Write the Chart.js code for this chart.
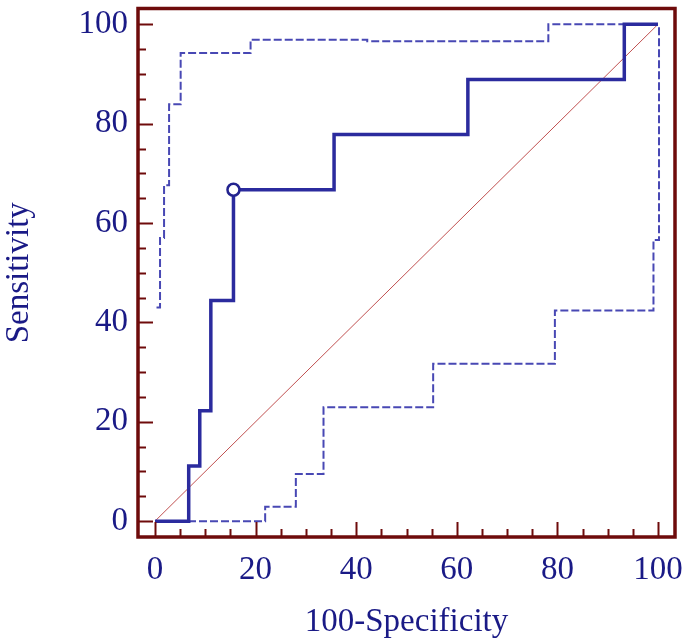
<!DOCTYPE html>
<html>
<head>
<meta charset="utf-8">
<script src="https://cdn.jsdelivr.net/npm/chart.js@4/dist/chart.umd.min.js"></script>
<style>
  html, body { margin: 0; padding: 0; background: #fff; }
  #wrap { width: 685px; height: 642px; }
</style>
</head>
<body>
<div id="wrap"><canvas id="roc"></canvas></div>
<script>
// ROC curve (100-Specificity vs Sensitivity), corner points of the steps
const rocX = [0, 6.7, 6.7, 8.9, 8.9, 11.1, 11.1, 15.6, 15.6, 35.6, 35.6, 62.2, 62.2, 93.3, 93.3, 100];
const rocY = [0, 0, 11.1, 11.1, 22.2, 22.2, 44.4, 44.4, 66.7, 66.7, 77.8, 77.8, 88.9, 88.9, 100, 100];

// upper confidence bound
const upperX = [0.3, 1.0, 1.0, 1.8, 1.8, 2.8, 2.8, 5.1, 5.1, 19.0, 19.0, 42.2, 42.2, 78.2, 78.2, 100];
const upperY = [43, 43, 57, 57, 67.6, 67.6, 83.9, 83.9, 94.2, 94.2, 96.9, 96.9, 96.6, 96.6, 100, 100];

// lower confidence bound
const lowerX = [0, 21.9, 21.9, 28.0, 28.0, 33.5, 33.5, 55.3, 55.3, 79.5, 79.5, 99.1, 99.1, 100.2, 100.2];
const lowerY = [0, 0, 2.9, 2.9, 9.5, 9.5, 22.9, 22.9, 31.7, 31.7, 42.4, 42.4, 56.6, 56.6, 100];

// optimal cut-off (criterion) point
const cutX = [15.6];
const cutY = [66.7];

const diagX = [0, 100];
const diagY = [0, 100];

const tickValues = [0, 20, 40, 60, 80, 100];
const minorStep = 5;

const axisColor = '#6e0b0b';
const textColor = '#1a1a86';
const fontFamily = '"Liberation Serif", "Times New Roman", serif';

function toPoints(xs, ys) {
    return xs.map((x, i) => ({ x: x, y: ys[i] }));
}

// frame and inward tick marks
const framePlugin = {
    id: 'frame',
    afterDatasetsDraw(chart) {
        const ctx = chart.ctx;
        const area = chart.chartArea;
        const xs = chart.scales.x;
        const ys = chart.scales.y;
        ctx.save();
        ctx.strokeStyle = axisColor;
        ctx.lineWidth = 2;
        for (let v = 0; v <= 100; v += minorStep) {
            const len = v % 20 === 0 ? 15 : 8;
            const px = Math.round(xs.getPixelForValue(v)) + 0.5;
            ctx.beginPath();
            ctx.moveTo(px, area.bottom);
            ctx.lineTo(px, area.bottom - len);
            ctx.stroke();
            const py = Math.round(ys.getPixelForValue(v)) + 0.5;
            ctx.beginPath();
            ctx.moveTo(area.left, py);
            ctx.lineTo(area.left + len, py);
            ctx.stroke();
        }
        ctx.lineWidth = 3.5;
        ctx.strokeRect(area.left, area.top, area.right - area.left, area.bottom - area.top);
        ctx.restore();
    }
};

const ctx = document.getElementById('roc').getContext('2d');
const chart = new Chart(ctx, {
    type: 'line',
    data: {
        datasets: [
            {
                label: 'cut-off',
                data: toPoints(cutX, cutY),
                showLine: false,
                pointRadius: 6,
                pointBorderWidth: 2.5,
                pointBackgroundColor: '#ffffff',
                pointBorderColor: '#23238f',
                order: 0
            },
            {
                label: 'ROC',
                data: toPoints(rocX, rocY),
                borderColor: '#2b2b9e',
                borderWidth: 3.5,
                pointRadius: 0,
                order: 1
            },
            {
                label: 'upper',
                data: toPoints(upperX, upperY),
                borderColor: '#4848b4',
                borderWidth: 2,
                borderDash: [8, 3],
                pointRadius: 0,
                order: 2
            },
            {
                label: 'lower',
                data: toPoints(lowerX, lowerY),
                borderColor: '#4848b4',
                borderWidth: 2,
                borderDash: [8, 3],
                pointRadius: 0,
                order: 2
            },
            {
                label: 'diagonal',
                data: toPoints(diagX, diagY),
                borderColor: '#c05050',
                borderWidth: 1,
                pointRadius: 0,
                order: 3
            }
        ]
    },
    options: {
        responsive: true,
        maintainAspectRatio: false,
        animation: false,
        clip: false,
        layout: { padding: { top: 3, right: 10, left: 0, bottom: 0 } },
        plugins: {
            legend: { display: false },
            tooltip: { enabled: false }
        },
        scales: {
            x: {
                type: 'linear',
                min: -3.38,
                max: 103.38,
                grid: { display: false, drawTicks: false },
                border: { display: false },
                afterBuildTicks: (scale) => {
                    scale.ticks = tickValues.map(v => ({ value: v }));
                },
                afterFit: (scale) => {
                    scale.height = 105;
                    scale.paddingLeft = 0;
                    scale.paddingRight = 0;
                },
                ticks: {
                    padding: 14,
                    color: textColor,
                    font: { family: fontFamily, size: 33 },
                    maxRotation: 0
                },
                title: {
                    display: true,
                    text: '100-Specificity',
                    color: textColor,
                    font: { family: fontFamily, size: 33 },
                    padding: { top: 0, bottom: 0 }
                }
            },
            y: {
                type: 'linear',
                min: -3.19,
                max: 103.18,
                grid: { display: false, drawTicks: false },
                border: { display: false },
                afterBuildTicks: (scale) => {
                    scale.ticks = tickValues.map(v => ({ value: v }));
                },
                afterFit: (scale) => {
                    scale.width = 138;
                    scale.paddingTop = 0;
                    scale.paddingBottom = 0;
                },
                ticks: {
                    padding: 10,
                    color: textColor,
                    font: { family: fontFamily, size: 33 }
                },
                title: {
                    display: true,
                    text: 'Sensitivity',
                    color: textColor,
                    font: { family: fontFamily, size: 33 },
                    padding: { top: 0, bottom: 0 }
                }
            }
        }
    },
    plugins: [framePlugin]
});
</script>
</body>
</html>
